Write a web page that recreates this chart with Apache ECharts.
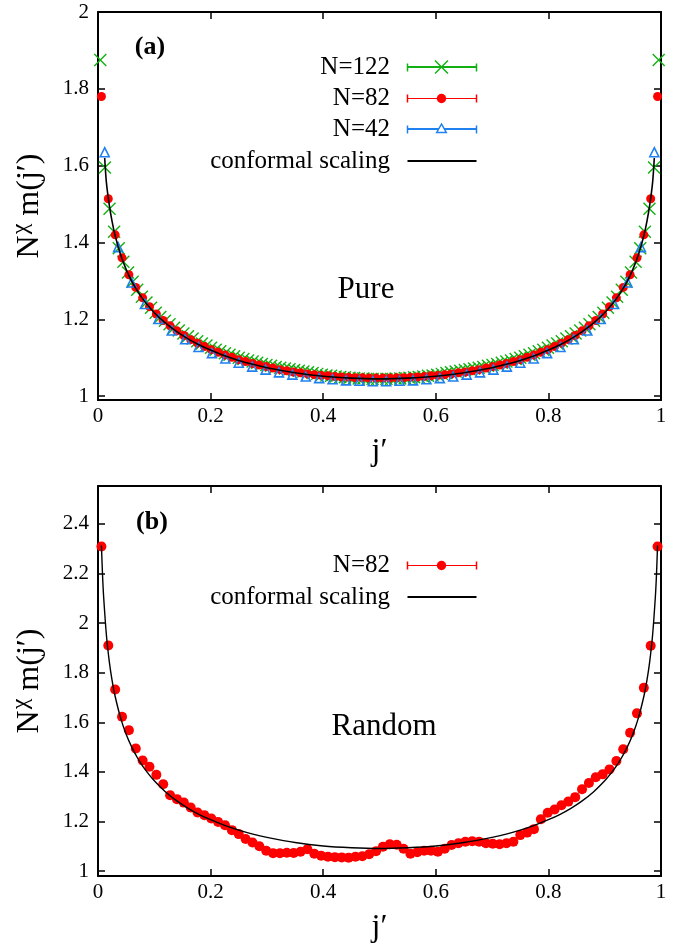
<!DOCTYPE html>
<html>
<head>
<meta charset="utf-8">
<script src="https://cdn.jsdelivr.net/npm/echarts@6/dist/echarts.min.js"></script>
<style>
html,body{margin:0;padding:0;background:#fff;}
#chart{width:684px;height:945px;}
</style>
</head>
<body>
<div id="chart"></div>
<script>
// ---------- data ----------
const xTicks = [0, 0.2, 0.4, 0.6, 0.8, 1];
const yTicksPure = [1, 1.2, 1.4, 1.6, 1.8, 2];
const yTicksRandom = [1, 1.2, 1.4, 1.6, 1.8, 2, 2.2, 2.4];

// Pure chain: N^chi m(j') at sites j' = (j-1/2)/N
const pureN122 = [1.875,1.595,1.488,1.428,1.385,1.350,1.322,1.298,1.277,1.259,1.244,1.230,1.217,1.206,1.196,1.187,1.178,1.171,1.163,1.156,1.150,1.143,1.137,1.132,1.126,1.121,1.117,1.112,1.108,1.104,1.100,1.097,1.093,1.090,1.087,1.084,1.081,1.079,1.076,1.074,1.072,1.070,1.068,1.066,1.064,1.062,1.060,1.058,1.056,1.054,1.053,1.051,1.050,1.049,1.048,1.047,1.046,1.046,1.045,1.045,1.045,
  1.045,1.045,1.045,1.046,1.046,1.047,1.048,1.049,1.050,1.051,1.053,1.054,1.056,1.058,1.060,1.062,1.064,1.066,1.068,1.070,1.072,1.074,1.076,1.079,1.081,1.084,1.087,1.090,1.093,1.097,1.100,1.104,1.108,1.112,1.117,1.121,1.126,1.132,1.137,1.143,1.150,1.156,1.163,1.171,1.178,1.187,1.196,1.206,1.217,1.230,1.244,1.259,1.277,1.298,1.322,1.350,1.385,1.428,1.488,1.595,1.875];
const pureN82 = [1.780,1.514,1.420,1.360,1.316,1.283,1.256,1.233,1.214,1.197,1.183,1.170,1.158,1.147,1.138,1.129,1.121,1.114,1.107,1.101,1.095,1.090,1.085,1.081,1.077,1.073,1.069,1.066,1.063,1.061,1.058,1.056,1.054,1.053,1.051,1.050,1.049,1.048,1.048,1.047,1.047,
  1.047,1.047,1.048,1.048,1.049,1.050,1.051,1.053,1.054,1.056,1.058,1.061,1.063,1.066,1.069,1.073,1.077,1.081,1.085,1.090,1.095,1.101,1.107,1.114,1.121,1.129,1.138,1.147,1.158,1.170,1.183,1.197,1.214,1.233,1.256,1.283,1.316,1.360,1.420,1.514,1.780];
const pureN42 = [1.635,1.388,1.296,1.240,1.201,1.171,1.148,1.128,1.112,1.098,1.087,1.077,1.069,1.062,1.056,1.051,1.047,1.044,1.041,1.040,1.039,
  1.039,1.040,1.041,1.044,1.047,1.051,1.056,1.062,1.069,1.077,1.087,1.098,1.112,1.128,1.148,1.171,1.201,1.240,1.296,1.388,1.635];
const pureConfX = [0.0119,0.015,0.02,0.025,0.03,0.04,0.05,0.06,0.07,0.08,0.09,0.1,0.12,0.14,0.16,0.18,0.2,0.225,0.25,0.275,0.3,0.35,0.4,0.45,0.5,
  0.55,0.6,0.65,0.7,0.725,0.75,0.775,0.8,0.82,0.84,0.86,0.88,0.9,0.91,0.92,0.93,0.94,0.95,0.96,0.97,0.975,0.98,0.985,0.9881];
const pureConfY = [1.620,1.555,1.498,1.455,1.421,1.369,1.330,1.299,1.274,1.252,1.234,1.217,1.190,1.168,1.149,1.133,1.120,1.105,1.093,1.083,1.074,1.061,1.052,1.047,1.045,
  1.047,1.052,1.061,1.074,1.083,1.093,1.105,1.120,1.133,1.149,1.168,1.190,1.217,1.234,1.252,1.274,1.299,1.330,1.369,1.421,1.455,1.498,1.555,1.620];

// Random chain, N = 82
const randomN82 = [2.309,1.910,1.732,1.622,1.568,1.494,1.446,1.421,1.388,1.350,
  1.306,1.290,1.276,1.256,1.236,1.225,1.212,1.198,1.185,1.165,
  1.149,1.129,1.115,1.100,1.082,1.072,1.072,1.074,1.073,1.078,
  1.088,1.070,1.062,1.058,1.056,1.055,1.054,1.058,1.060,1.068,
  1.080,1.098,1.108,1.106,1.090,1.070,1.076,1.082,1.082,1.078,
  1.090,1.105,1.112,1.118,1.120,1.118,1.112,1.110,1.108,1.112,
  1.118,1.145,1.155,1.169,1.209,1.235,1.248,1.265,1.280,1.298,
  1.330,1.355,1.378,1.390,1.410,1.444,1.491,1.558,1.636,1.739,
  1.909,2.309];
const randomErr = 0.013;
const randomConfX = [0.0061,0.008,0.01,0.015,0.02,0.025,0.03,0.04,0.05,0.06,0.07,0.08,0.09,0.1,0.12,0.14,0.16,0.18,0.2,0.225,0.25,0.275,0.3,0.35,0.4,0.45,0.5,
  0.55,0.6,0.65,0.7,0.725,0.75,0.775,0.8,0.82,0.84,0.86,0.88,0.9,0.91,0.92,0.93,0.94,0.95,0.96,0.97,0.975,0.98,0.985,0.99,0.992,0.9939];
const randomConfY = [2.313,2.197,2.106,1.950,1.846,1.769,1.709,1.619,1.552,1.500,1.457,1.421,1.391,1.364,1.319,1.283,1.253,1.228,1.207,1.184,1.165,1.149,1.136,1.115,1.101,1.094,1.091,
  1.094,1.101,1.115,1.136,1.149,1.165,1.184,1.207,1.228,1.253,1.283,1.319,1.364,1.391,1.421,1.457,1.500,1.552,1.619,1.709,1.769,1.846,1.950,2.106,2.197,2.313];

// ---------- styling ----------
const FONT = '"Liberation Serif", "Times New Roman", serif';
const GREEN = '#13b013';
const RED = '#ff0000';
const BLUE = '#1f80f0';

const sitePairs = (vals) => vals.map((v, i) => [(i + 0.5) / vals.length, v]);
const zipPairs = (xs, ys) => xs.map((x, i) => [x, ys[i]]);

function xAxes(gridIndex) {
  return [
    { type: 'value', gridIndex, position: 'bottom', min: 0, max: 1, interval: 0.2,
      name: 'j\u2032', nameLocation: 'middle', nameGap: 36,
      nameTextStyle: { fontFamily: FONT, fontSize: 32, color: '#000' },
      axisLine: { show: true, onZero: false, lineStyle: { color: '#000', width: 2 } },
      axisTick: { show: true, inside: true, length: 7, lineStyle: { color: '#000', width: 1.5 } },
      axisLabel: { show: true, margin: 6, fontFamily: FONT, fontSize: 21, color: '#000' },
      splitLine: { show: false } },
    { type: 'value', gridIndex, position: 'top', min: 0, max: 1, interval: 0.2,
      axisLine: { show: true, onZero: false, lineStyle: { color: '#000', width: 2 } },
      axisTick: { show: true, inside: true, length: 7, lineStyle: { color: '#000', width: 1.5 } },
      axisLabel: { show: false }, splitLine: { show: false } }
  ];
}
function yAxes(gridIndex, min, max, ticks) {
  return [
    { type: 'value', gridIndex, position: 'left', min, max,
      name: '{n|N}{s|\u03c7}{n| m(j\u2032)}', nameLocation: 'middle', nameGap: 52, nameRotate: 90,
      nameTextStyle: { fontFamily: FONT, fontSize: 32, color: '#000',
        rich: { n: { fontFamily: FONT, fontSize: 32, color: '#000', verticalAlign: 'bottom' },
                s: { fontFamily: FONT, fontSize: 24, color: '#000', verticalAlign: 'bottom', padding: [0, 0, 13, 1] } } },
      axisLine: { show: true, onZero: false, lineStyle: { color: '#000', width: 2 } },
      axisTick: { show: true, inside: true, length: 7, customValues: ticks, lineStyle: { color: '#000', width: 1.5 } },
      axisLabel: { show: true, margin: 9, customValues: ticks, fontFamily: FONT, fontSize: 21, color: '#000' },
      splitLine: { show: false } },
    { type: 'value', gridIndex, position: 'right', min, max,
      axisLine: { show: true, onZero: false, lineStyle: { color: '#000', width: 2 } },
      axisTick: { show: true, inside: true, length: 7, customValues: ticks, lineStyle: { color: '#000', width: 1.5 } },
      axisLabel: { show: false }, splitLine: { show: false } }
  ];
}

// legend drawn as graphic decoration
function legendRow(y, label, color, kind, lw) {
  const x1 = 407.5, x2 = 476.5, xm = 441.5;
  const yl = lw % 2 === 1 ? y + 0.5 : y;
  const els = [
    { type: 'text', x: 390, y: y, style: { text: label, fill: '#000', font: '25px ' + FONT, align: 'right', verticalAlign: 'middle' } },
    { type: 'line', shape: { x1, y1: yl, x2, y2: yl }, style: { stroke: color, lineWidth: lw } }
  ];
  if (kind !== 'line') {
    els.push({ type: 'line', shape: { x1, y1: y - 3.5, x2: x1, y2: y + 4.5 }, style: { stroke: color, lineWidth: 1.5 } });
    els.push({ type: 'line', shape: { x1: x2, y1: y - 3.5, x2: x2, y2: y + 4.5 }, style: { stroke: color, lineWidth: 1.5 } });
  }
  if (kind === 'cross') {
    els.push({ type: 'line', shape: { x1: xm - 6.5, y1: y - 6.5, x2: xm + 6.5, y2: y + 6.5 }, style: { stroke: color, lineWidth: 1.5 } });
    els.push({ type: 'line', shape: { x1: xm - 6.5, y1: y + 6.5, x2: xm + 6.5, y2: y - 6.5 }, style: { stroke: color, lineWidth: 1.5 } });
  } else if (kind === 'circle') {
    els.push({ type: 'circle', shape: { cx: xm, cy: y + 0.5, r: 4.7 }, style: { fill: color } });
  } else if (kind === 'triangle') {
    els.push({ type: 'polygon', shape: { points: [[xm, y - 5], [xm - 4.8, y + 3.5], [xm + 4.8, y + 3.5]] }, style: { fill: '#fff', stroke: color, lineWidth: 1.5 } });
  }
  return els;
}

const graphics = [].concat(
  legendRow(67, 'N=122', GREEN, 'cross', 2),
  legendRow(98, 'N=82', RED, 'circle', 1),
  legendRow(129, 'N=42', BLUE, 'triangle', 2),
  legendRow(161, 'conformal scaling', '#000', 'line', 2),
  legendRow(565, 'N=82', RED, 'circle', 1),
  legendRow(597, 'conformal scaling', '#000', 'line', 2),
  [
    { type: 'text', x: 150, y: 47, style: { text: '(a)', fill: '#000', font: 'bold 26px ' + FONT, align: 'center', verticalAlign: 'middle' } },
    { type: 'text', x: 152, y: 522, style: { text: '(b)', fill: '#000', font: 'bold 26px ' + FONT, align: 'center', verticalAlign: 'middle' } },
    { type: 'text', x: 366, y: 290, style: { text: 'Pure', fill: '#000', font: '31px ' + FONT, align: 'center', verticalAlign: 'middle' } },
    { type: 'text', x: 384, y: 727, style: { text: 'Random', fill: '#000', font: '31px ' + FONT, align: 'center', verticalAlign: 'middle' } }
  ]
);

const crossSymbol = 'path://M0,0L10,10M10,0L0,10';

const option = {
  animation: false,
  backgroundColor: '#fff',
  grid: [
    { left: 98, top: 12, width: 563, height: 388 },
    { left: 98, top: 486, width: 563, height: 391 }
  ],
  xAxis: [].concat(xAxes(0), xAxes(1)),
  yAxis: [].concat(yAxes(0, 0.99, 2, yTicksPure), yAxes(1, 0.98, 2.553, yTicksRandom)),
  graphic: graphics,
  series: [
    { name: 'N=122', type: 'scatter', xAxisIndex: 0, yAxisIndex: 0, data: sitePairs(pureN122),
      symbol: crossSymbol, symbolSize: 12, silent: true,
      itemStyle: { color: 'none', borderColor: GREEN, borderWidth: 1.4, opacity: 1 } },
    { name: 'N=82', type: 'scatter', xAxisIndex: 0, yAxisIndex: 0, data: sitePairs(pureN82),
      symbol: 'circle', symbolSize: 9, silent: true, itemStyle: { color: RED, opacity: 1 } },
    { name: 'N=42', type: 'scatter', xAxisIndex: 0, yAxisIndex: 0, data: sitePairs(pureN42),
      symbol: 'triangle', symbolSize: 9, silent: true,
      itemStyle: { color: 'rgba(255,255,255,0)', borderColor: BLUE, borderWidth: 1.6, opacity: 1 } },
    { name: 'conformal scaling', type: 'line', xAxisIndex: 0, yAxisIndex: 0, data: zipPairs(pureConfX, pureConfY),
      showSymbol: false, smooth: 0.3, silent: true, lineStyle: { color: '#000', width: 1.6 } },

    { name: 'err', type: 'custom', xAxisIndex: 2, yAxisIndex: 2, data: sitePairs(randomN82), silent: true,
      renderItem: function (params, api) {
        const x = api.value(0), y = api.value(1);
        const lo = api.coord([x, y - randomErr]);
        const hi = api.coord([x, y + randomErr]);
        const st = { stroke: RED, lineWidth: 1 };
        return { type: 'group', children: [
          { type: 'line', shape: { x1: lo[0], y1: lo[1], x2: hi[0], y2: hi[1] }, style: st },
          { type: 'line', shape: { x1: lo[0] - 3.5, y1: lo[1], x2: lo[0] + 3.5, y2: lo[1] }, style: st },
          { type: 'line', shape: { x1: hi[0] - 3.5, y1: hi[1], x2: hi[0] + 3.5, y2: hi[1] }, style: st }
        ] };
      } },
    { name: 'N=82 random', type: 'scatter', xAxisIndex: 2, yAxisIndex: 2, data: sitePairs(randomN82),
      symbol: 'circle', symbolSize: 10, silent: true, itemStyle: { color: RED, opacity: 1 } },
    { name: 'conformal scaling random', type: 'line', xAxisIndex: 2, yAxisIndex: 2, data: zipPairs(randomConfX, randomConfY),
      showSymbol: false, smooth: 0.3, silent: true, lineStyle: { color: '#000', width: 1.4 } }
  ]
};

const chart = echarts.init(document.getElementById('chart'), null, { renderer: 'canvas' });
chart.setOption(option);
</script>
</body>
</html>
